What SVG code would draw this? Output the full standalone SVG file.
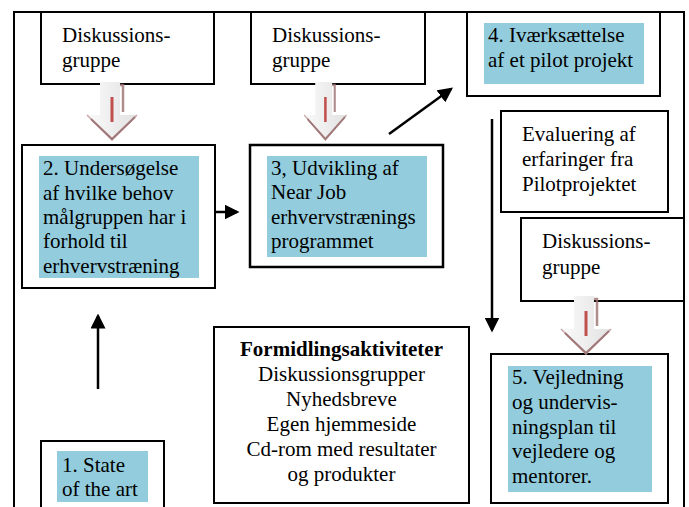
<svg xmlns="http://www.w3.org/2000/svg" width="689" height="507" viewBox="0 0 689 507">
<defs>
<style>
.box{fill:#fff;stroke:#000;stroke-width:2}
.hl{fill:#93cddd}
.t{font-family:"Liberation Serif","Times New Roman",serif;font-size:21px;fill:#000}
.b{font-weight:bold}
.ln{stroke:#000;stroke-width:2.5;fill:none}
.frame{stroke:#000;stroke-width:2;fill:none}
</style>
<marker id="ah" markerWidth="6" markerHeight="6" refX="5" refY="3" orient="auto" markerUnits="strokeWidth">
<path d="M0,0 L6,3 L0,6 z" fill="#000"/>
</marker>
<linearGradient id="ag" x1="0" y1="0" x2="1" y2="0">
<stop offset="0" stop-color="#fafafa"/>
<stop offset="0.5" stop-color="#eeeeee"/>
<stop offset="1" stop-color="#e2e2e2"/>
</linearGradient>
<g id="blockArrow">
<path d="M12,0 L32,0 L32,33 L49,33 L24,58 L-1,33 L12,33 Z" fill="url(#ag)"/>
<path d="M32,3 L35,3 L35,30" stroke="#9c7070" stroke-width="2.5" fill="none" opacity="0.8"/>
<path d="M-1,33 L24,58 L49,33" stroke="#c9a8a8" stroke-width="1.5" fill="none"/>
<path d="M3,37 L24,57 L47,35" stroke="#a07878" stroke-width="2" fill="none"/>
<line x1="24" y1="15" x2="24" y2="40" stroke="#c0504d" stroke-width="3"/>
</g>
</defs>

<g id="frame">
<path class="frame" d="M14,507 L14,12 L684,12 L684,507"/>
</g>

<g id="disk1">
<rect class="box" x="41" y="12" width="173" height="72"/>
<text class="t" x="62" y="42">Diskussions-</text>
<text class="t" x="62" y="67">gruppe</text>
</g>

<g id="disk2">
<rect class="box" x="251" y="12" width="174" height="72"/>
<text class="t" x="272" y="42">Diskussions-</text>
<text class="t" x="272" y="67">gruppe</text>
</g>

<g id="step4">
<rect class="box" x="467" y="12" width="193" height="84"/>
<rect class="hl" x="484" y="23" width="160" height="61"/>
<text class="t" x="488" y="42">4. Iværksættelse</text>
<text class="t" x="488" y="67">af et pilot projekt</text>
</g>

<g id="evaluering">
<rect class="box" x="501" y="111" width="167" height="101"/>
<text class="t" x="522" y="141">Evaluering af</text>
<text class="t" x="522" y="166">erfaringer fra</text>
<text class="t" x="522" y="191">Pilotprojektet</text>
</g>

<g id="disk3">
<rect class="box" x="521" y="218" width="163" height="83"/>
<text class="t" x="542" y="248">Diskussions-</text>
<text class="t" x="542" y="274">gruppe</text>
</g>

<g id="step2">
<rect class="box" x="22" y="145" width="193" height="143"/>
<rect class="hl" x="39" y="156" width="160" height="122"/>
<text class="t" x="43" y="175">2. Undersøgelse</text>
<text class="t" x="43" y="200">af hvilke behov</text>
<text class="t" x="43" y="224">målgruppen har i</text>
<text class="t" x="43" y="248">forhold til</text>
<text class="t" x="43" y="273">erhvervstræning</text>
</g>

<g id="step3">
<rect class="box" x="250" y="145" width="193" height="122" style="stroke-width:2.5"/>
<rect class="hl" x="267" y="156" width="160" height="101"/>
<text class="t" x="271" y="175">3, Udvikling af</text>
<text class="t" x="271" y="199">Near Job</text>
<text class="t" x="271" y="224">erhvervstrænings</text>
<text class="t" x="271" y="248">programmet</text>
</g>

<g id="formidling">
<rect class="box" x="214" y="327" width="255" height="176"/>
<text class="t b" x="341.5" y="356" text-anchor="middle">Formidlingsaktiviteter</text>
<text class="t" x="341.5" y="381" text-anchor="middle">Diskussionsgrupper</text>
<text class="t" x="341.5" y="406" text-anchor="middle">Nyhedsbreve</text>
<text class="t" x="341.5" y="431" text-anchor="middle">Egen hjemmeside</text>
<text class="t" x="341.5" y="456" text-anchor="middle">Cd-rom med resultater</text>
<text class="t" x="341.5" y="481" text-anchor="middle">og produkter</text>
</g>

<g id="step5">
<rect class="box" x="491" y="354" width="177" height="149"/>
<rect class="hl" x="508" y="366" width="144" height="126"/>
<text class="t" x="512" y="384">5. Vejledning</text>
<text class="t" x="512" y="409">og undervis-</text>
<text class="t" x="512" y="434">ningsplan til</text>
<text class="t" x="512" y="458">vejledere og</text>
<text class="t" x="512" y="483">mentorer.</text>
</g>

<g id="step1">
<rect class="box" x="41" y="441" width="123" height="80"/>
<rect class="hl" x="57" y="451" width="91" height="51"/>
<text class="t" x="62" y="472">1. State</text>
<text class="t" x="62" y="496">of the art</text>
</g>

<g id="connectors">
<line class="ln" x1="98" y1="389" x2="98" y2="316" marker-end="url(#ah)"/>
<line class="ln" x1="215" y1="212" x2="237" y2="212" marker-end="url(#ah)"/>
<line class="ln" x1="389" y1="134" x2="451" y2="89" marker-end="url(#ah)"/>
<line class="ln" x1="492" y1="119" x2="492" y2="330" marker-end="url(#ah)"/>
<use href="#blockArrow" x="88" y="82"/>
<use href="#blockArrow" transform="translate(305,82) scale(0.85,1)"/>
<use href="#blockArrow" x="562" y="296"/>
</g>
</svg>
